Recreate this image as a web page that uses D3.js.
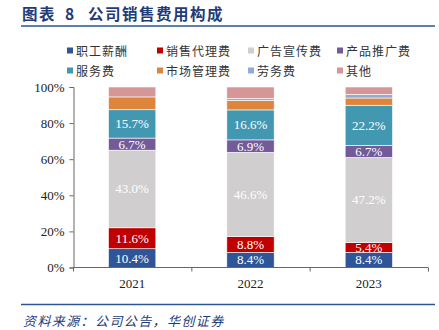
<!DOCTYPE html>
<html>
<head>
<meta charset="utf-8">
<script src="https://cdn.jsdelivr.net/npm/d3@7"></script>
<style>
  body { margin: 0; background: #fff; }
  svg { display: block; }
</style>
</head>
<body>
<script>
// data
const years = ['2021', '2022', '2023'];
const seriesNames = ['职工薪酬', '销售代理费', '广告宣传费', '产品推广费', '服务费', '市场管理费', '劳务费', '其他'];
const seriesColors = ['#2E5597', '#C00000', '#D0CECE', '#735A98', '#4398B1', '#DF853B', '#8FAADB', '#D49697'];
const salary    = [10.4, 8.4, 8.4];
const agency    = [11.6, 8.8, 5.4];
const ads       = [43.0, 46.6, 47.2];
const promotion = [6.7, 6.9, 6.7];
const service   = [15.7, 16.6, 22.2];
const market    = [7.1, 5.3, 4.0];
const labor     = [0.0, 1.0, 2.0];
const other     = [5.5, 6.4, 4.1];
const labelled  = [true, true, true, true, true, false, false, false];
const yTicks    = [0, 20, 40, 60, 80, 100];

const allSeries = [salary, agency, ads, promotion, service, market, labor, other];

const width = 439, height = 330;
const margin = { left: 73, right: 11, top: 87, bottom: 62 };

const svg = d3.select('body').append('svg')
  .attr('width', width)
  .attr('height', height);

const cjk = '"Noto Sans CJK SC", "Noto Sans", sans-serif';
const serif = '"Liberation Serif", "Times New Roman", serif';

// title + rules
const titleParts = [['图表', 22], ['8', 65], ['公司销售费用构成', 88]];
titleParts.forEach(([t, tx]) => {
  svg.append('text')
    .attr('x', tx).attr('y', 20)
    .attr('fill', '#1F3C78')
    .style('font-family', cjk)
    .style('font-size', '15.5px')
    .style('font-weight', 'bold')
    .style('letter-spacing', '1.5px')
    .text(t);
});

svg.append('line')
  .attr('x1', 21).attr('x2', 435).attr('y1', 26).attr('y2', 26)
  .attr('stroke', '#2A5592').attr('stroke-width', 1.5);

svg.append('line')
  .attr('x1', 21).attr('x2', 435).attr('y1', 304.5).attr('y2', 304.5)
  .attr('stroke', '#2A5592').attr('stroke-width', 1.5);

svg.append('text')
  .attr('x', 23).attr('y', 326)
  .attr('fill', '#1F3C78')
  .style('font-family', cjk)
  .style('font-size', '13px')
  .style('font-style', 'italic')
  .style('letter-spacing', '1.4px')
  .text('资料来源：公司公告，华创证券');

// legend
const legendX = [67, 157, 248, 337];
const legendY = [51, 71];
const legend = svg.append('g');
seriesNames.forEach((name, i) => {
  const g = legend.append('g')
    .attr('transform', `translate(${legendX[i % 4]},${legendY[Math.floor(i / 4)]})`);
  g.append('rect')
    .attr('x', 0).attr('y', -3.5).attr('width', 6).attr('height', 6)
    .attr('fill', seriesColors[i]);
  g.append('text')
    .attr('x', 9).attr('y', 4.5)
    .attr('fill', '#333')
    .style('font-family', cjk)
    .style('font-size', '12px')
    .style('letter-spacing', '1px')
    .text(name);
});

// scales
const x = d3.scaleBand()
  .domain(years)
  .range([margin.left, width - margin.right])
  .paddingInner(0.6)
  .paddingOuter(0.3);

const y = d3.scaleLinear()
  .domain([0, 100])
  .range([height - margin.bottom - 0.5, margin.top]);

// stacked data
const table = years.map((yr, j) => {
  const row = { year: yr };
  seriesNames.forEach((n, i) => { row[n] = allSeries[i][j]; });
  return row;
});
const stacked = d3.stack().keys(seriesNames)(table);

const layers = svg.append('g').selectAll('g')
  .data(stacked)
  .join('g')
  .attr('fill', (d, i) => seriesColors[i]);

layers.selectAll('rect')
  .data(d => d)
  .join('rect')
  .attr('x', d => x(d.data.year))
  .attr('width', x.bandwidth())
  .attr('y', d => y(d[1]))
  .attr('height', d => Math.max(0, y(d[0]) - y(d[1])))
  .attr('stroke', '#fff')
  .attr('stroke-width', 0.6);

// in-bar labels
stacked.forEach((layer, i) => {
  if (!labelled[i]) return;
  svg.append('g').selectAll('text')
    .data(layer)
    .join('text')
    .attr('x', d => x(d.data.year) + x.bandwidth() / 2)
    .attr('y', d => y((d[0] + d[1]) / 2) + 4.5)
    .attr('text-anchor', 'middle')
    .attr('fill', '#fff')
    .style('font-family', serif)
    .style('font-size', '13px')
    .text(d => (d[1] - d[0]).toFixed(1) + '%');
});

// axes
const yAxis = d3.axisLeft(y)
  .tickValues(yTicks)
  .tickSize(4)
  .tickFormat(d => d + '%');

svg.append('g')
  .attr('transform', `translate(${margin.left + 0.5},0)`)
  .call(yAxis)
  .call(g => g.select('.domain').attr('stroke', '#666'))
  .call(g => g.selectAll('.tick line').attr('stroke', '#666'))
  .call(g => g.selectAll('.tick text')
    .attr('fill', '#222')
    .attr('x', -9)
    .style('font-family', serif)
    .style('font-size', '13px'));

const xAxis = d3.axisBottom(x)
  .tickSize(0)
  .tickPadding(11);

const xg = svg.append('g')
  .attr('transform', `translate(0,${y(0)})`)
  .call(xAxis)
  .call(g => g.select('.domain').attr('stroke', '#666').attr('d', `M${margin.left},0H${width - margin.right}`))
  .call(g => g.selectAll('.tick text')
    .attr('fill', '#222')
    .style('font-family', serif)
    .style('font-size', '13px'));

// category boundary ticks
const bounds = d3.range(years.length + 1).map(k => margin.left + k * (width - margin.left - margin.right) / years.length);
xg.selectAll('.bound')
  .data(bounds)
  .join('line')
  .attr('class', 'bound')
  .attr('x1', d => d + 0.5).attr('x2', d => d + 0.5)
  .attr('y1', 0).attr('y2', 4)
  .attr('stroke', '#666');
</script>
</body>
</html>
